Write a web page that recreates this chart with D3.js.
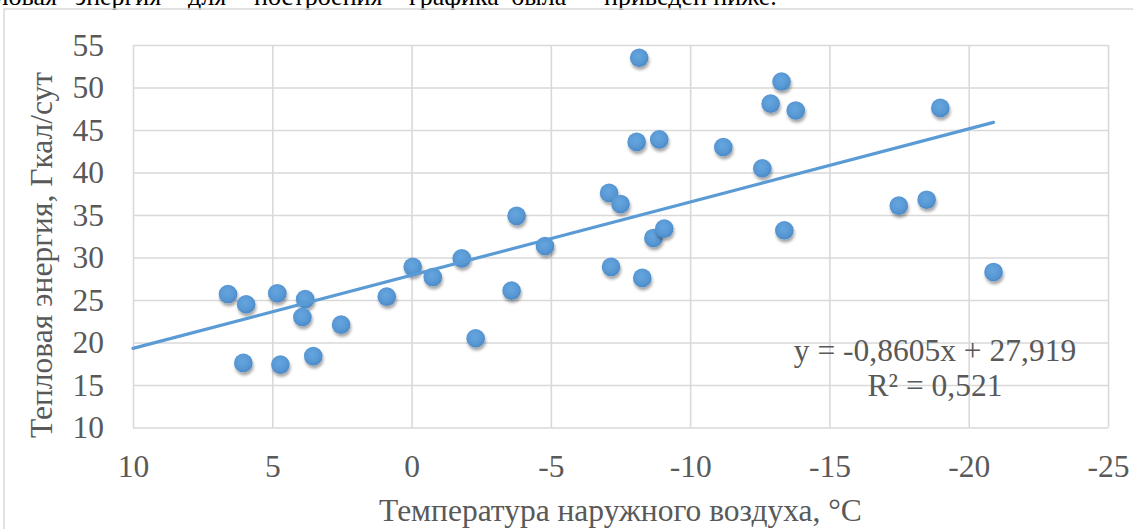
<!DOCTYPE html>
<html lang="ru">
<head>
<meta charset="utf-8">
<title>Тепловая энергия и температура наружного воздуха</title>
<script src="https://cdn.jsdelivr.net/npm/d3@7"></script>
<style>
  html, body { margin: 0; padding: 0; background: #ffffff; }
  svg { display: block; }
  svg text { font-family: 'Liberation Serif', 'Times New Roman', serif !important; }
</style>
</head>
<body>
<svg id="chart" width="1133" height="529"></svg>
<script>
// Температура наружного воздуха, °C
const temperature = [
  6.59, 5.94, 6.04, 4.82, 4.71, 3.82, 3.92, 3.53, 2.53,
  0.89, -0.04, -0.76, -1.80, -2.30, -3.59, -3.77, -4.79,
  -7.09, -7.50, -7.16, -8.28, -8.08, -8.17, -8.89, -8.68, -9.07,
  -11.19, -12.59, -12.89, -13.28, -13.79, -13.38,
  -17.49, -18.49, -18.98, -20.89
];
// Тепловая энергия, Гкал/сут
const heat = [
  25.7, 24.5, 17.6, 25.8, 17.4, 25.1, 23.0, 18.4, 22.1,
  25.4, 28.9, 27.7, 29.9, 20.5, 26.1, 34.9, 31.35,
  37.6, 36.3, 28.9, 27.6, 43.6, 53.5, 43.9, 32.3, 33.4,
  43.0, 40.5, 48.1, 50.7, 47.3, 33.2,
  36.1, 36.8, 47.6, 28.3
];
// Линия тренда: y = slope·x + intercept
const trendSlope = -0.8605;
const trendIntercept = 27.919;
const trendR2 = 0.521;

const xTicks = [10, 5, 0, -5, -10, -15, -20, -25];
const yTicks = [10, 15, 20, 25, 30, 35, 40, 45, 50, 55];

const xTitle = "Температура наружного воздуха, °C";
const yTitle = "Тепловая энергия, Гкал/сут";

// Строка текста документа над диаграммой
const headerWords = ["Тепловая", "энергия", "для", "построения", "графика", "была", "приведен ниже."];
const headerX = [57, 75, 188, 254, 409, 511, 604];

const serif = "'Liberation Serif', 'Times New Roman', serif";
const fontPx = "31.5px";
const svg = d3.select("#chart");
const W = 1133, H = 529;
const plot = { left: 133, right: 1108, top: 45, bottom: 427.5 };
const textColor = "#595959";
const gridColor = "#d9d9d9";
const blue = "#5b9bd5";

// Текст документа (обрезан верхним краем)
svg.append("g").selectAll("text")
  .data(headerWords)
  .join("text")
  .attr("x", (d, i) => headerX[i])
  .attr("y", 5)
  .attr("text-anchor", (d, i) => i === 0 ? "end" : "start")
  .style("font-family", serif)
  .attr("font-size", 26)
  .attr("fill", "#000")
  .text(d => d);

// Рамка области диаграммы
svg.append("rect")
  .attr("x", 4).attr("y", 9)
  .attr("width", W + 10).attr("height", H + 10)
  .attr("fill", "none")
  .attr("stroke", gridColor)
  .attr("stroke-width", 1.5);

const x = d3.scaleLinear().domain([10, -25]).range([plot.left, plot.right]);
const y = d3.scaleLinear().domain([10, 55]).range([plot.bottom, plot.top]);

const defs = svg.append("defs");
const grad = defs.append("radialGradient")
  .attr("id", "dotFill").attr("cx", "45%").attr("cy", "40%").attr("r", "60%");
grad.append("stop").attr("offset", "0%").attr("stop-color", "#66a6df");
grad.append("stop").attr("offset", "70%").attr("stop-color", "#5797d3");
grad.append("stop").attr("offset", "100%").attr("stop-color", "#4a88c6");
const shadow = defs.append("filter")
  .attr("id", "dotShadow").attr("x", "-50%").attr("y", "-50%")
  .attr("width", "200%").attr("height", "200%");
shadow.append("feDropShadow")
  .attr("dx", 1).attr("dy", 3).attr("stdDeviation", 1.8)
  .attr("flood-color", "#000").attr("flood-opacity", 0.35);

// Горизонтальные линии сетки и подписи оси Y
const yAxis = svg.append("g")
  .attr("transform", `translate(${plot.left},0)`)
  .call(d3.axisLeft(y).tickValues(yTicks)
    .tickSize(-(plot.right - plot.left))
    .tickPadding(29)
    .tickFormat(d => String(d)));
yAxis.attr("font-family", null).attr("font-size", null);
yAxis.select(".domain").remove();
yAxis.selectAll("line").attr("stroke", gridColor).attr("stroke-width", 1.6);
yAxis.selectAll("text")
  .style("font-family", serif)
  .style("font-size", fontPx).attr("fill", textColor);

// Вертикальные линии сетки и подписи оси X
const xAxis = svg.append("g")
  .attr("transform", `translate(0,${plot.bottom})`)
  .call(d3.axisBottom(x).tickValues(xTicks)
    .tickSize(-(plot.bottom - plot.top))
    .tickPadding(27)
    .tickFormat(d => String(d)));
xAxis.attr("font-family", null).attr("font-size", null);
xAxis.select(".domain").remove();
xAxis.selectAll("line").attr("stroke", gridColor).attr("stroke-width", 1.6);
xAxis.selectAll("text")
  .style("font-family", serif)
  .style("font-size", fontPx).attr("fill", textColor);

// Точки наблюдений
const points = temperature.map((t, i) => ({ t, q: heat[i] }));
svg.append("g").selectAll("circle")
  .data(points)
  .join("circle")
  .attr("cx", d => x(d.t))
  .attr("cy", d => y(d.q))
  .attr("r", 9.3)
  .attr("fill", "url(#dotFill)")
  .attr("filter", "url(#dotShadow)");

// Линейная линия тренда
const trendX = [10, d3.min(temperature)];
const line = d3.line().x(d => x(d)).y(d => y(trendSlope * d + trendIntercept));
svg.append("path")
  .datum(trendX)
  .attr("d", line)
  .attr("fill", "none")
  .attr("stroke", blue)
  .attr("stroke-width", 3.2)
  .attr("stroke-linecap", "round");

// Уравнение тренда и коэффициент детерминации
const fmt = v => String(v).replace(".", ",");
const eq = svg.append("g").attr("fill", textColor).attr("text-anchor", "middle")
  .style("font-family", serif).style("font-size", fontPx);
eq.append("text").attr("x", 935).attr("y", 361)
  .text(`y = ${fmt(trendSlope)}x + ${fmt(trendIntercept)}`);
eq.append("text").attr("x", 935).attr("y", 396)
  .text(`R² = ${fmt(trendR2)}`);

// Названия осей
svg.append("text")
  .attr("x", (plot.left + plot.right) / 2).attr("y", 521)
  .attr("text-anchor", "middle")
  .style("font-family", serif).style("font-size", fontPx).attr("fill", textColor)
  .text(xTitle);
svg.append("text")
  .attr("transform", "translate(52,255) rotate(-90)")
  .attr("text-anchor", "middle")
  .style("font-family", serif).style("font-size", fontPx).attr("fill", textColor)
  .text(yTitle);
</script>
</body>
</html>
